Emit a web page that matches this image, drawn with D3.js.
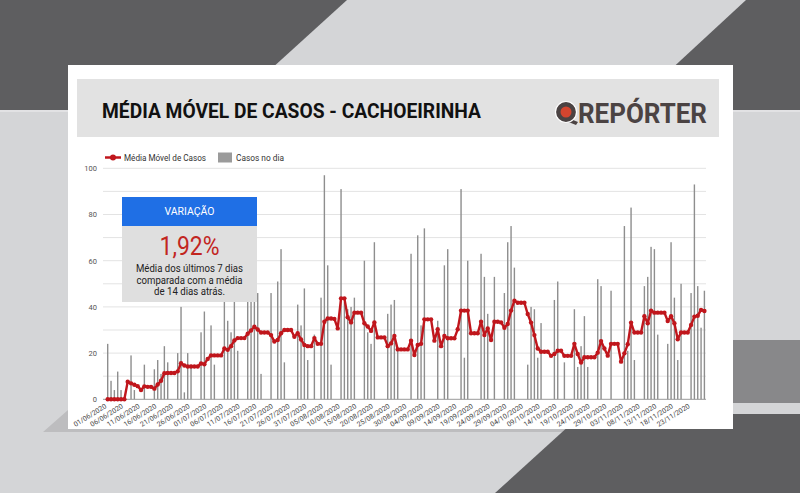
<!DOCTYPE html>
<html>
<head>
<meta charset="utf-8">
<script src="https://cdn.jsdelivr.net/npm/d3@7"></script>
<style>
  html, body { margin: 0; padding: 0; background: #d4d5d7; }
  svg { display: block; font-family: Roboto, "Noto Sans", sans-serif; }
</style>
</head>
<body>
<div id="chart"></div>
<script>
// data
const startDate = '01/06/2020';

const casosNoDia = [
  24, 8, 4, 12, 4, 1, 0, 19, 4, 0,
  0, 15, 0, 0, 13, 17, 11, 23, 16, 0,
  0, 20, 40, 3, 20, 15, 0, 0, 29, 38,
  0, 32, 15, 0, 0, 50, 34, 29, 48, 21,
  0, 0, 55, 47, 52, 46, 11, 0, 0, 46,
  0, 51, 65, 16, 0, 0, 0, 41, 32, 48,
  17, 0, 28, 0, 44, 97, 58, 15, 0, 0,
  91, 42, 39, 40, 44, 0, 0, 60, 29, 24,
  68, 0, 0, 0, 37, 41, 43, 21, 0, 0,
  0, 63, 0, 71, 32, 74, 0, 0, 0, 34,
  0, 58, 65, 0, 0, 0, 91, 18, 60, 0,
  0, 0, 63, 53, 37, 0, 53, 0, 0, 46,
  68, 75, 57, 0, 0, 0, 15, 40, 39, 18,
  33, 0, 0, 0, 43, 51, 0, 16, 0, 0,
  39, 14, 23, 36, 14, 0, 0, 52, 49, 0,
  0, 47, 0, 0, 0, 75, 21, 83, 17, 0,
  0, 49, 53, 66, 65, 28, 0, 0, 24, 68,
  44, 17, 50, 0, 0, 46, 93, 49, 31, 47
];

const mediaMovel = [
  0, 0, 0, 0, 0, 0, 7.6, 6.9, 6.3, 5.7,
  4.0, 5.6, 5.4, 5.4, 4.6, 6.4, 8.0, 11.3, 11.4, 11.4,
  11.4, 12.1, 15.6, 14.6, 14.2, 14.2, 14.2, 14.2, 15.5, 15.2,
  17.5, 19, 19, 19, 19, 22, 21.4, 23, 25.5, 26.5,
  26.5, 26.5, 28.4, 29.8, 31.4, 30.2, 28.9, 28.9, 28.9, 27.8,
  25, 25.7, 28.6, 30, 30, 30, 27.1, 28.6, 25.9, 23.5,
  23, 23, 26.5, 24, 24, 33.6, 35, 35, 34.8, 30.7,
  43.7, 43.7, 35.5, 33.3, 37.5, 37.5, 37.5, 32.9, 31.5, 29.6,
  33.3, 26.8, 26.8, 26.8, 23, 24.2, 27.4, 21.6, 21.6, 21.6,
  21.6, 25.4, 19.2, 23.5, 24, 34.6, 34.6, 34.6, 25.4, 30.3,
  23, 27.4, 26.4, 26.4, 26.4, 30.3, 38.4, 38.4, 38.4, 28.6,
  28.6, 28.6, 33.6, 27.8, 30.7, 25.7, 33.6, 33.6, 33.3, 31,
  32.6, 38.4, 42.7, 41.8, 41.8, 41.8, 36.9, 33.2, 27.8, 22,
  20.6, 20.6, 20.6, 18.8, 19.6, 21, 21, 18.8, 18.8, 18.8,
  24, 19.6, 15.9, 18.2, 18.2, 18.2, 18.2, 20.2, 25.2, 22,
  18.9, 24, 24, 24, 16.3, 19.9, 23.8, 33.2, 28.9, 28.9,
  28.9, 36, 32.9, 38.4, 37.5, 37.5, 37.5, 37.5, 33.9, 36,
  32.9, 26, 28.9, 28.9, 28.9, 32.2, 35.8, 36.2, 38.7, 38.2
];

const tickLabels = [
  '01/06/2020', '06/06/2020', '11/06/2020', '16/06/2020', '21/06/2020', '26/06/2020',
  '01/07/2020', '06/07/2020', '11/07/2020', '16/07/2020', '21/07/2020', '26/07/2020',
  '31/07/2020', '05/08/2020', '10/08/2020', '15/08/2020', '20/08/2020', '25/08/2020',
  '30/08/2020', '04/09/2020', '09/09/2020', '14/09/2020', '19/09/2020', '24/09/2020',
  '29/09/2020', '04/10/2020', '09/10/2020', '14/10/2020', '19/10/2020', '24/10/2020',
  '29/10/2020', '03/11/2020', '08/11/2020', '13/11/2020', '18/11/2020', '23/11/2020'
];

const yTicks = [0, 20, 40, 60, 80, 100];

const titulo = 'MÉDIA MÓVEL DE CASOS - CACHOEIRINHA';
const legendaLabels = ['Média Móvel de Casos', 'Casos no dia'];
const variacaoTitulo = 'VARIAÇÃO';
const variacaoValor = '1,92%';
const variacaoTexto = ['Média dos últimos 7 dias', 'comparada com a média', 'de 14 dias atrás.'];

const DARK = '#5e5e60';
const RED = '#c0161c';
const BAR = '#8e8e8e';

class MediaMovelChart {
  constructor(node) {
    this.container = d3.select(node);
    this.setupVar();
    this.setupUtils();
  }

  setupVar() {
    this.width = 800;
    this.height = 493;
    this.plot = { left: 103, right: 706, top: 168.3, bottom: 399.3 };
  }

  setupUtils() {
    this.parse = d3.utcParse('%d/%m/%Y');
    const start = this.parse(startDate);
    this.days = casosNoDia.map((c, i) => ({
      date: d3.utcDay.offset(start, i),
      casos: c,
      media: mediaMovel[i]
    }));
    this.x = d3.scaleUtc()
      .domain([this.days[0].date, this.days[this.days.length - 1].date])
      .range([107.7, 704.4]);
    this.y = d3.scaleLinear()
      .domain([0, 100])
      .range([this.plot.bottom, this.plot.top]);
  }

  drawBackground() {
    const bg = this.svg.append('g').attr('class', 'bg');
    const poly = (pts, fill) => bg.append('polygon')
      .attr('points', pts.map(p => p.join(',')).join(' '))
      .attr('fill', fill);

    bg.append('rect').attr('width', this.width).attr('height', this.height).attr('fill', '#d4d5d7');
    poly([[0, 0], [347, 0], [226, 110], [0, 110]], DARK);
    poly([[746, 0], [800, 0], [800, 110], [627, 110]], DARK);
    bg.append('rect').attr('x', 0).attr('y', 110).attr('width', 800).attr('height', 2).attr('fill', '#e2e2e4');
    bg.append('rect').attr('x', 700).attr('y', 340).attr('width', 100).attr('height', 63).attr('fill', '#88888a');
    poly([[43, 432], [68, 410], [68, 429], [733, 429], [733, 432]], '#bdbdbf');
    poly([[582, 414], [800, 414], [800, 493], [495, 493]], DARK);

    // card
    bg.append('rect').attr('x', 68).attr('y', 65).attr('width', 665).attr('height', 364).attr('fill', '#fff');
  }

  drawHeader() {
    const head = this.svg.append('g').attr('class', 'header');
    head.append('rect')
      .attr('x', 77).attr('y', 79).attr('width', 642).attr('height', 58)
      .attr('fill', '#e2e2e2');
    head.append('text')
      .attr('x', 102).attr('y', 118)
      .attr('font-size', 21).attr('font-weight', 700).attr('fill', '#111')
      .attr('textLength', 379).attr('lengthAdjust', 'spacingAndGlyphs')
      .text(titulo);

    // logo
    const logo = head.append('g').attr('transform', 'translate(566,112)');
    logo.append('polygon').attr('points', '2,6 12,10 10,13 0,9').attr('fill', '#4b4343');
    logo.append('circle').attr('r', 10.5).attr('fill', '#4b4343').attr('stroke', '#fff').attr('stroke-width', 1.2);
    logo.append('circle').attr('r', 5.5).attr('fill', '#d4452f');
    head.append('text')
      .attr('x', 578).attr('y', 123)
      .attr('font-size', 27).attr('font-weight', 700).attr('fill', '#4b4343')
      .attr('textLength', 129).attr('lengthAdjust', 'spacingAndGlyphs')
      .text('REPÓRTER');
  }

  drawLegend() {
    const lg = this.svg.append('g').attr('class', 'legend').attr('font-size', 9).attr('fill', '#333');
    lg.append('line').attr('x1', 105).attr('x2', 121).attr('y1', 157.5).attr('y2', 157.5)
      .attr('stroke', RED).attr('stroke-width', 2.5);
    lg.append('circle').attr('cx', 113).attr('cy', 157.5).attr('r', 3).attr('fill', RED);
    lg.append('text').attr('x', 124).attr('y', 160.5)
      .attr('textLength', 82).attr('lengthAdjust', 'spacingAndGlyphs').text(legendaLabels[0]);
    lg.append('rect').attr('x', 218).attr('y', 152.5).attr('width', 14).attr('height', 10).attr('fill', '#9b9b9b');
    lg.append('text').attr('x', 236).attr('y', 160.5)
      .attr('textLength', 48).attr('lengthAdjust', 'spacingAndGlyphs').text(legendaLabels[1]);
  }

  drawGraph() {
    const days = this.days;
    const p = this.plot;

    // gridlines
    this.svg.append('g').attr('class', 'grid')
      .selectAll('line')
      .data(d3.range(10, 101, 10))
      .join('line')
      .attr('x1', p.left).attr('x2', p.right)
      .attr('y1', d => this.y(d)).attr('y2', d => this.y(d))
      .attr('stroke', '#e3e3e3').attr('stroke-width', 1);

    // y axis
    const yAxis = d3.axisLeft(this.y).tickValues(yTicks).tickSize(0).tickPadding(6);
    const gy = this.svg.append('g')
      .attr('class', 'y axis')
      .attr('transform', `translate(${p.left},0)`)
      .call(yAxis);
    gy.select('.domain').remove();
    gy.selectAll('text').attr('font-size', 7.5).attr('fill', '#555').attr('font-family', 'Roboto, sans-serif');

    // bars
    this.svg.append('g').attr('class', 'bars')
      .selectAll('rect')
      .data(days.filter(d => d.casos > 0))
      .join('rect')
      .attr('x', d => this.x(d.date) - 0.7)
      .attr('width', 1.4)
      .attr('y', d => this.y(d.casos))
      .attr('height', d => this.y(0) - this.y(d.casos))
      .attr('fill', BAR);

    // baseline
    this.svg.append('line')
      .attr('x1', p.left).attr('x2', p.right)
      .attr('y1', this.y(0)).attr('y2', this.y(0))
      .attr('stroke', '#9a9a9a').attr('stroke-width', 1);

    // x axis
    const tickDates = tickLabels.map(this.parse);
    const xAxis = d3.axisBottom(this.x)
      .tickValues(tickDates)
      .tickFormat(d3.utcFormat('%d/%m/%Y'))
      .tickSize(0);
    const gx = this.svg.append('g')
      .attr('class', 'x axis')
      .attr('transform', `translate(0,${this.y(0)})`)
      .call(xAxis);
    gx.select('.domain').remove();
    gx.selectAll('text')
      .attr('x', 0).attr('y', 0).attr('dy', '0.35em')
      .attr('transform', 'translate(-2.5,6) rotate(-32)')
      .style('text-anchor', 'end')
      .attr('font-size', 7).attr('fill', '#444').attr('font-family', 'Roboto, sans-serif');

    // moving average
    const line = d3.line()
      .x(d => this.x(d.date))
      .y(d => this.y(d.media));
    this.svg.append('path')
      .datum(days)
      .attr('d', line)
      .attr('fill', 'none')
      .attr('stroke', RED)
      .attr('stroke-width', 2.4)
      .attr('stroke-linejoin', 'round');
    this.svg.append('g').attr('class', 'dots')
      .selectAll('circle')
      .data(days)
      .join('circle')
      .attr('cx', d => this.x(d.date))
      .attr('cy', d => this.y(d.media))
      .attr('r', 2.2)
      .attr('fill', RED);
  }

  drawBox() {
    const box = this.svg.append('g').attr('class', 'variacao');
    const cx = 189.5;
    box.append('rect').attr('x', 122).attr('y', 226).attr('width', 135).attr('height', 76).attr('fill', '#dfdfdf');
    box.append('rect').attr('x', 122).attr('y', 197).attr('width', 135).attr('height', 29).attr('fill', '#1f6fe5');
    box.append('text').attr('x', cx).attr('y', 215).attr('text-anchor', 'middle')
      .attr('font-size', 11).attr('fill', '#fff')
      .attr('textLength', 50).attr('lengthAdjust', 'spacingAndGlyphs')
      .text(variacaoTitulo);
    box.append('text').attr('x', cx).attr('y', 255).attr('text-anchor', 'middle')
      .attr('font-size', 25).attr('fill', '#c2261f')
      .attr('textLength', 60).attr('lengthAdjust', 'spacingAndGlyphs')
      .text(variacaoValor);
    const widths = [107, 106, 71];
    box.selectAll('text.desc')
      .data(variacaoTexto)
      .join('text')
      .attr('class', 'desc')
      .attr('x', cx)
      .attr('y', (d, i) => 272 + i * 11.6)
      .attr('text-anchor', 'middle')
      .attr('font-size', 10).attr('fill', '#222')
      .attr('textLength', (d, i) => widths[i]).attr('lengthAdjust', 'spacingAndGlyphs')
      .text(d => d);
  }

  draw() {
    this.svg = this.container.append('svg')
      .attr('width', this.width)
      .attr('height', this.height);
    this.drawBackground();
    this.drawHeader();
    this.drawLegend();
    this.drawGraph();
    this.drawBox();
  }
}

const chart = new MediaMovelChart(document.getElementById('chart'));
chart.draw();
</script>
</body>
</html>
